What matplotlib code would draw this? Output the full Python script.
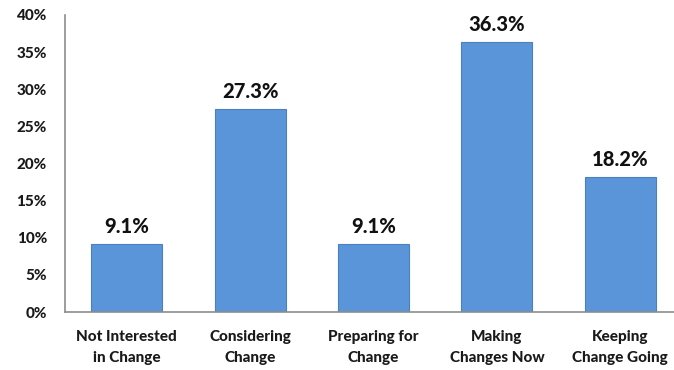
import matplotlib.pyplot as plt
import numpy as np
from matplotlib.ticker import PercentFormatter

categories = ["Not Interested\nin Change", "Considering\nChange", "Preparing for\nChange",
              "Making\nChanges Now", "Keeping\nChange Going"]
values = [9.1, 27.3, 9.1, 36.3, 18.2]
yticks = [0, 5, 10, 15, 20, 25, 30, 35, 40]

plt.rcParams["font.family"] = ["Lato", "DejaVu Sans"]

fig = plt.figure(figsize=(6.74, 3.70), dpi=100)
ax = fig.add_axes([65 / 674, 58 / 370, 617 / 674, 297 / 370])

x = np.arange(len(categories))
bars = ax.bar(x, values, width=0.575, color="#5A95DA", edgecolor="#4A7FC0", linewidth=0.8)

for b, v in zip(bars, values):
    ax.text(b.get_x() + b.get_width() / 2, v + 1.1, f"{v:.1f}%", ha="center", va="bottom",
            fontsize=14.5, fontweight="black", color="#111111")

ax.set_xlim(-0.5, len(categories) - 0.5)
ax.set_ylim(0, 40)
ax.set_yticks(yticks)
ax.yaxis.set_major_formatter(PercentFormatter(decimals=0))
ax.set_xticks(x)
ax.set_xticklabels(categories, fontsize=11, fontweight="black", color="#1a1a1a", linespacing=1.65)
for lbl in ax.get_yticklabels():
    lbl.set_fontsize(11)
    lbl.set_fontweight("black")
    lbl.set_color("#1a1a1a")
ax.tick_params(axis="both", length=0)
ax.tick_params(axis="y", pad=13)
ax.tick_params(axis="x", pad=13)

for s in ["top", "right"]:
    ax.spines[s].set_visible(False)
for s in ["left", "bottom"]:
    ax.spines[s].set_color("#8c8c8c")
    ax.spines[s].set_linewidth(1.2)

fig.savefig("out.png", dpi=100)
